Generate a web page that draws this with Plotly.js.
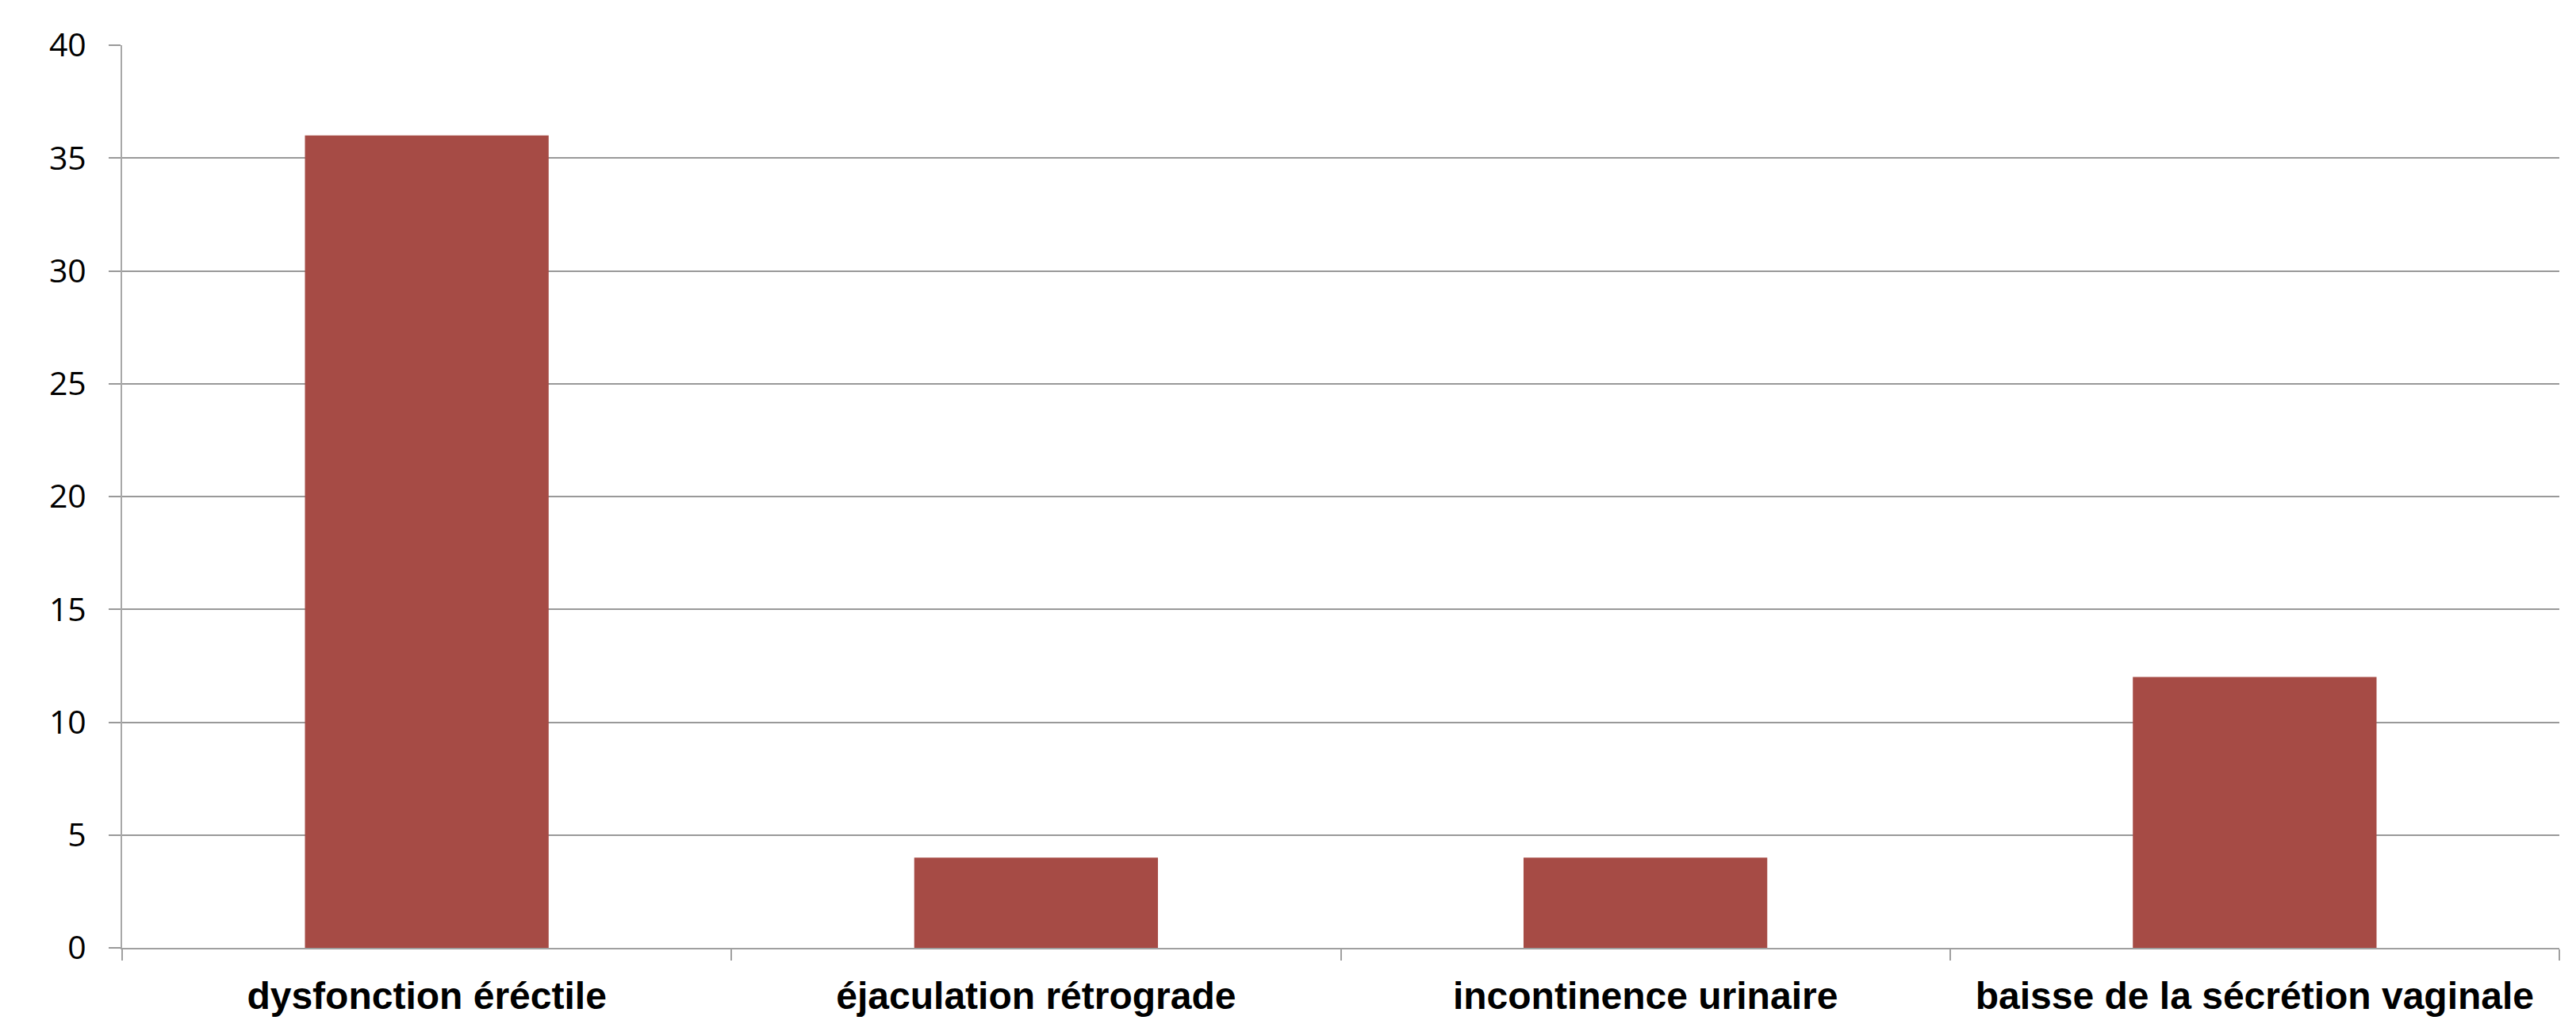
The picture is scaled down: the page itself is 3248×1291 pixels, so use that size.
<!DOCTYPE html>
<html>
<head>
<meta charset="utf-8">
<script src="https://cdn.plot.ly/plotly-3.0.1.min.js"></script>
<style>html,body{margin:0;padding:0;background:#fff;}#chart{width:3248px;height:1291px;}</style>
</head>
<body>
<div id="chart"></div>
<script>
const categories = ["dysfonction éréctile", "éjaculation rétrograde", "incontinence urinaire", "baisse de la sécrétion vaginale"];
const values = [36, 4, 4, 12];
const yTicks = [0, 5, 10, 15, 20, 25, 30, 35, 40];

const trace = {
  type: 'bar',
  x: categories,
  y: values,
  marker: {color: '#A64B45', line: {width: 0}},
  hoverinfo: 'x+y'
};

const layout = {
  width: 3248,
  height: 1291,
  margin: {l: 154, r: 21, t: 57, b: 96, pad: 0},
  paper_bgcolor: '#ffffff',
  plot_bgcolor: '#ffffff',
  showlegend: false,
  bargap: 0.6,
  xaxis: {
    type: 'category',
    showline: true,
    linecolor: '#a0a0a0',
    linewidth: 2,
    showgrid: false,
    ticks: 'outside',
    tickson: 'boundaries',
    ticklen: 14,
    tickwidth: 2,
    tickcolor: '#a0a0a0',
    tickangle: 0,
    tickfont: {family: '"Liberation Sans", Arial, sans-serif', size: 48, color: '#000000', weight: 'bold'},
    ticklabelstandoff: 17,
    automargin: false
  },
  yaxis: {
    range: [0, 40],
    tickvals: yTicks,
    ticktext: yTicks.map(String),
    showline: true,
    linecolor: '#a8a8a8',
    linewidth: 2,
    showgrid: true,
    gridcolor: '#999999',
    gridwidth: 2,
    zeroline: false,
    ticks: 'outside',
    ticklen: 15,
    tickwidth: 2,
    tickcolor: '#999999',
    tickfont: {family: '"Open Sans", Carlito, sans-serif', size: 41, color: '#000000'},
    ticklabelstandoff: 20,
    automargin: false
  }
};

Plotly.newPlot('chart', [trace], layout, {displayModeBar: false, staticPlot: true});
</script>
</body>
</html>
